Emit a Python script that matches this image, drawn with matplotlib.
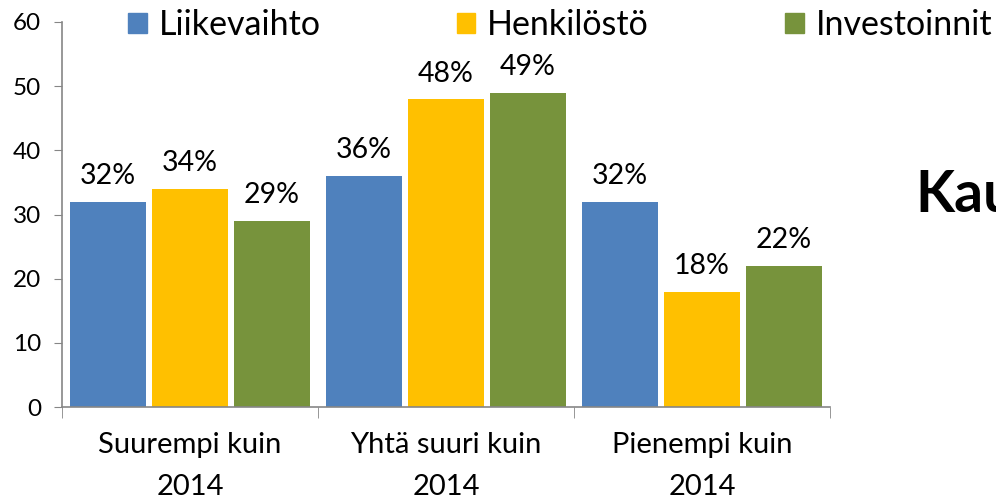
import matplotlib
matplotlib.use("Agg")
import matplotlib.pyplot as plt
import numpy as np
from matplotlib.patches import Patch

plt.rcParams['font.family'] = ['Lato', 'DejaVu Sans']

categories = ["Suurempi kuin\n2014", "Yhtä suuri kuin\n2014", "Pienempi kuin\n2014"]
series_names = ["Liikevaihto", "Henkilöstö", "Investoinnit"]
liikevaihto = [32, 36, 32]
henkilosto = [34, 48, 18]
investoinnit = [29, 49, 22]
colors = ["#4F81BD", "#FFC000", "#77933C"]
yticks = [0, 10, 20, 30, 40, 50, 60]

fig = plt.figure(figsize=(9.96, 4.99), dpi=100)
ax = fig.add_axes([62/996, 1-407/499, (830-62)/996, (407-22)/499])

x = np.arange(len(categories))
offsets = [-0.32, 0, 0.32]
width = 0.297
for vals, off, col in zip([liikevaihto, henkilosto, investoinnit], offsets, colors):
    bars = ax.bar(x + off, vals, width, color=col)
    for b, v in zip(bars, vals):
        ax.annotate(f"{v}%", (b.get_x() + b.get_width()/2, v), xytext=(0, 9),
                    textcoords="offset points", ha="center", va="bottom", fontsize=20.5)

ax.set_xlim(-0.5, 2.5)
ax.set_ylim(0, 60)
ax.set_yticks(yticks)
ax.set_xticks(x)
ax.set_xticklabels(categories, fontsize=21, linespacing=1.75)
ax.set_xticks([-0.5, 0.5, 1.5, 2.5], minor=True)
ax.tick_params(axis='x', which='major', length=0, pad=18)
ax.tick_params(axis='x', which='minor', length=8, direction='out', color='#868686')
ax.tick_params(axis='y', length=6, direction='out', color='#868686', labelsize=17.5, pad=9)
for s in ['top', 'right']:
    ax.spines[s].set_visible(False)
for s in ['left', 'bottom']:
    ax.spines[s].set_color('#868686')
    ax.spines[s].set_linewidth(1.2)

handles = [Patch(color=c) for c in colors]
fig.legend(handles, series_names, loc='center left', bbox_to_anchor=(128/996, 1-25/499),
           ncol=3, frameon=False, fontsize=24.5, handlelength=0.55, handleheight=0.55,
           handletextpad=0.35, columnspacing=4.0, borderaxespad=0, borderpad=0)

fig.text(915/996, 1-195/499, "Kau", fontsize=41, fontweight='bold', ha='left', va='center')

fig.savefig("out.png", dpi=100)
